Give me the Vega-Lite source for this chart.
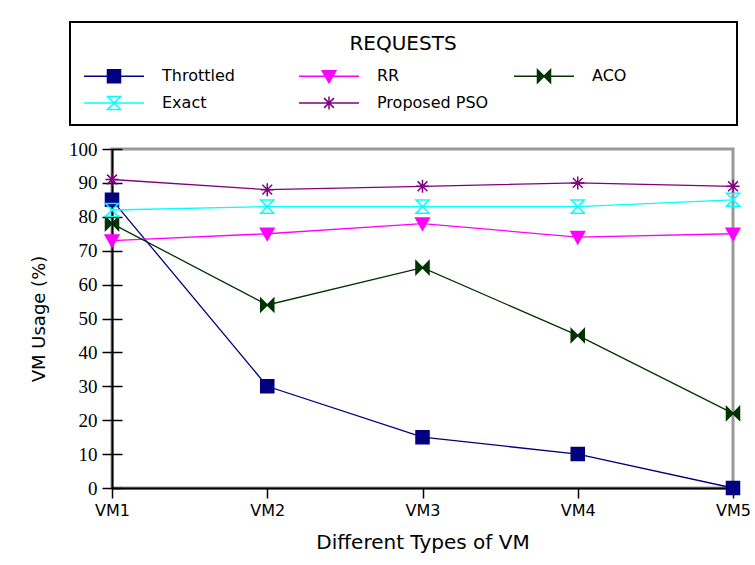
{
  "$schema": "https://vega.github.io/schema/vega-lite/v6.json",
  "width": 621,
  "height": 339,
  "autosize": {"type": "none"},
  "padding": {"left": 112, "top": 149, "right": 22, "bottom": 77},
  "background": "white",
  "config": {
    "view": {"stroke": "#999999", "strokeWidth": 3},
    "font": "DejaVu Sans",
    "legend": {
      "orient": "none",
      "legendX": -42,
      "legendY": -127,
      "columns": 3,
      "direction": "horizontal",
      "titleAnchor": "middle",
      "titleFont": "DejaVu Sans",
      "titleFontSize": 20,
      "titleFontWeight": "normal",
      "titleColor": "#000",
      "titlePadding": 14,
      "labelFont": "DejaVu Sans",
      "labelFontSize": 16,
      "labelColor": "#000",
      "labelLimit": 300,
      "symbolSize": 170,
      "symbolStrokeWidth": 1.5,
      "symbolOffset": 24,
      "labelOffset": 40,
      "columnPadding": 1,
      "rowPadding": 7,
      "gridAlign": "all",
      "padding": 12,
      "strokeColor": "#000",
      "fillColor": "#fff"
    }
  },
  "data": {
    "values": [
      {"vm": "VM1", "series": "Throttled", "value": 85},
      {"vm": "VM2", "series": "Throttled", "value": 30},
      {"vm": "VM3", "series": "Throttled", "value": 15},
      {"vm": "VM4", "series": "Throttled", "value": 10},
      {"vm": "VM5", "series": "Throttled", "value": 0},
      {"vm": "VM1", "series": "RR", "value": 73},
      {"vm": "VM2", "series": "RR", "value": 75},
      {"vm": "VM3", "series": "RR", "value": 78},
      {"vm": "VM4", "series": "RR", "value": 74},
      {"vm": "VM5", "series": "RR", "value": 75},
      {"vm": "VM1", "series": "ACO", "value": 78},
      {"vm": "VM2", "series": "ACO", "value": 54},
      {"vm": "VM3", "series": "ACO", "value": 65},
      {"vm": "VM4", "series": "ACO", "value": 45},
      {"vm": "VM5", "series": "ACO", "value": 22},
      {"vm": "VM1", "series": "Exact", "value": 82},
      {"vm": "VM2", "series": "Exact", "value": 83},
      {"vm": "VM3", "series": "Exact", "value": 83},
      {"vm": "VM4", "series": "Exact", "value": 83},
      {"vm": "VM5", "series": "Exact", "value": 85},
      {"vm": "VM1", "series": "Proposed PSO", "value": 91},
      {"vm": "VM2", "series": "Proposed PSO", "value": 88},
      {"vm": "VM3", "series": "Proposed PSO", "value": 89},
      {"vm": "VM4", "series": "Proposed PSO", "value": 90},
      {"vm": "VM5", "series": "Proposed PSO", "value": 89}
    ]
  },
  "encoding": {
    "x": {
      "field": "vm",
      "type": "ordinal",
      "scale": {"type": "point", "padding": 0},
      "axis": {
        "labelFont": "DejaVu Sans",
        "labelFontSize": 16,
        "labelColor": "#000",
        "labelAngle": 0,
        "labelPadding": 4,
        "tickSize": 10,
        "tickColor": "#000",
        "tickWidth": 1.5,
        "domainColor": "#000",
        "domainWidth": 2,
        "grid": false,
        "title": "Different Types of VM",
        "titleFont": "DejaVu Sans",
        "titleFontSize": 20,
        "titleFontWeight": "normal",
        "titleColor": "#000",
        "titlePadding": 14
      }
    },
    "stroke": {
      "field": "series",
      "type": "nominal",
      "scale": {
        "domain": ["Throttled", "RR", "ACO", "Exact", "Proposed PSO"],
        "range": ["#000080", "#FF00FF", "#003300", "#00FFFF", "#800080"]
      },
      "legend": {
        "title": "REQUESTS",
        "encode": {
          "legend": {"update": {"strokeWidth": {"value": 2}}},
          "symbols": {"update": {"shape": {"signal": "scale('shape', datum.value) + ' M-4.6,0H4.6 M27.2,0'"}}}
        }
      }
    }
  },
  "layer": [
    {
      "mark": {"type": "line", "strokeWidth": 1.3},
      "encoding": {
        "y": {
          "field": "value",
          "type": "quantitative",
          "scale": {"domain": [0, 100], "nice": false},
          "axis": {
            "orient": "left",
            "values": [0, 10, 20, 30, 40, 50, 60, 70, 80, 90, 100],
            "labelFont": "Liberation Serif",
            "labelFontSize": 19,
            "labelColor": "#000",
            "labelPadding": 5,
            "tickSize": 10,
            "tickColor": "#000",
            "tickWidth": 1.5,
            "domainColor": "#000",
            "domainWidth": 2,
            "grid": false,
            "title": "VM Usage (%)",
            "titleFont": "DejaVu Sans",
            "titleFontSize": 18,
            "titleFontWeight": "normal",
            "titleColor": "#000",
            "titlePadding": 20
          }
        }
      }
    },
    {
      "mark": {"type": "point", "size": 170, "strokeWidth": 1.5, "opacity": 1},
      "encoding": {
        "y": {
          "field": "value",
          "type": "quantitative",
          "scale": {"domain": [0, 100], "nice": false},
          "axis": {
            "orient": "left",
            "offset": -10,
            "values": [0, 10, 20, 30, 40, 50, 60, 70, 80, 90, 100],
            "labels": false,
            "domain": false,
            "ticks": true,
            "tickSize": 10,
            "tickColor": "#000",
            "tickWidth": 1.5,
            "grid": false,
            "title": null
          }
        },
        "fill": {
          "field": "series",
          "type": "nominal",
          "scale": {
            "domain": ["Throttled", "RR", "ACO", "Exact", "Proposed PSO"],
            "range": ["#000080", "#FF00FF", "#003300", "transparent", "transparent"]
          },
          "legend": {
            "title": "REQUESTS",
            "encode": {
              "legend": {"update": {"strokeWidth": {"value": 2}}},
              "symbols": {"update": {"shape": {"signal": "scale('shape', datum.value) + ' M-4.6,0H4.6 M27.2,0'"}}}
            }
          }
        },
        "shape": {
          "field": "series",
          "type": "nominal",
          "scale": {
            "domain": ["Throttled", "RR", "ACO", "Exact", "Proposed PSO", "none"],
            "range": [
              "M-1,-1H1V1H-1Z",
              "M-1.05,-0.85H1.05L0,1Z",
              "M-1,-1L0,0L-1,1Z M1,-1L0,0L1,1Z",
              "M-1,-1H1L-1,1H1Z",
              "M-1,0H1M0,-1V1M-0.75,-0.75L0.75,0.75M-0.75,0.75L0.75,-0.75",
              "M0,0Z"
            ]
          },
          "legend": null
        }
      }
    }
  ],
  "resolve": {"axis": {"y": "independent"}}
}
